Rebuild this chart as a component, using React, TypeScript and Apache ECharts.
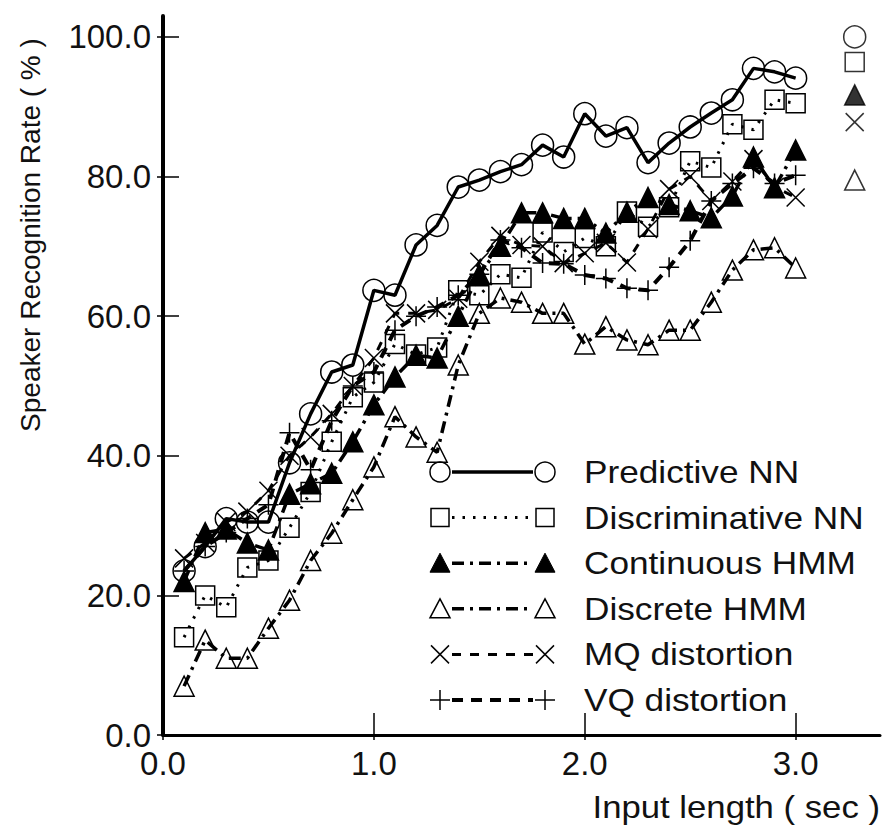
import React, { useEffect, useRef } from "react";
import * as echarts from "echarts";

const inputLength = [0.1, 0.2, 0.3, 0.4, 0.5, 0.6, 0.7, 0.8, 0.9, 1.0, 1.1, 1.2, 1.3, 1.4, 1.5, 1.6, 1.7, 1.8, 1.9, 2.0, 2.1, 2.2, 2.3, 2.4, 2.5, 2.6, 2.7, 2.8, 2.9, 3.0];

const predictiveNN = [23.5, 27, 31, 30.5, 30.5, 39, 46, 52, 53, 63.7, 63, 70.2, 73, 78.5, 79.5, 80.7, 81.7, 84.5, 82.8, 89, 85.8, 87, 82, 84.8, 87.1, 89.1, 91, 95.5, 95, 94.1];
const discriminativeNN = [14, 20, 18.3, 24, 25, 29.7, 34.8, 42, 48.4, 50.5, 56, 54.5, 55.5, 63.7, 63, 66, 65.5, 72, 69.2, 71.2, 70, 75, 72.8, 75.6, 82.2, 81.3, 87.5, 86.7, 91, 90.5];
const continuousHMM = [22, 29, 29.5, 27.5, 26.5, 34.5, 36, 37.5, 42, 47.3, 51.3, 54.4, 54, 60, 66, 70, 74.8, 74.8, 74, 74, 71.9, 74.9, 77, 76, 75.1, 74.1, 77.2, 82.8, 78.4, 83.8];
const discreteHMM = [7, 13.6, 11, 11, 15.3, 19.3, 25, 28.9, 33.7, 38.4, 45.6, 42.7, 40.5, 53, 60.4, 62.6, 62, 60.4, 60.4, 56, 58.5, 56.6, 55.9, 58, 58, 62, 66.6, 69.5, 69.8, 66.9];
const mqDistortion = [25.3, 27.5, 30.5, 32, 35, 40, 42.7, 46, 50, 54, 60.4, 60.4, 60.9, 62.5, 67.8, 71.5, 70.2, 70, 67.6, 69, 70.5, 67.7, 72.5, 78.2, 80, 76.5, 79.3, 82.5, 78.5, 77];
const vqDistortion = [23.5, 27, 29, 31, 33, 43.3, 38, 45, 50, 52, 58, 60, 61.3, 63, 66, 70.9, 69.8, 67.6, 67.5, 65.9, 65.4, 64, 63.7, 67, 70.8, 76.5, 79, 81.2, 79, 80.2];

const seriesNames = ["Predictive NN", "Discriminative NN", "Continuous HMM", "Discrete HMM", "MQ distortion", "VQ distortion"];
const seriesValues = [predictiveNN, discriminativeNN, continuousHMM, discreteHMM, mqDistortion, vqDistortion];

// loose marker column at the right edge of the figure
const sideMarkX = [3.28, 3.28, 3.28, 3.28, 3.28];
const sideMarkY = [100, 96.4, 91.7, 87.8, 79.5];
const sideMarkKind = [0, 1, 2, 4, 3];

const xTickValues = [0, 1, 2, 3];
const yTickValues = [0, 20, 40, 60, 80, 100];

const FONT = "Liberation Sans, Arial, Helvetica, sans-serif";
const CROSS = "path://M0,0L10,10M10,0L0,10";
const PLUS = "path://M5,0L5,10M0,5L10,5";

const styles: any[] = [
  { kind: "circle", symbol: "circle", size: 22, fill: "rgba(255,255,255,0)", dash: "solid", width: 3.5 },
  { kind: "square", symbol: "rect", size: 19, fill: "rgba(255,255,255,0)", dash: [2.5, 8], width: 3 },
  { kind: "ftri", symbol: "triangle", size: 20, fill: "#000", dash: [12, 6, 3, 6], width: 3.5 },
  { kind: "otri", symbol: "triangle", size: 20, fill: "rgba(255,255,255,0)", dash: [12, 6, 3, 6], width: 3.5 },
  { kind: "cross", symbol: CROSS, size: 18, fill: "rgba(255,255,255,0)", dash: [9, 9], width: 3 },
  { kind: "plus", symbol: PLUS, size: 20, fill: "rgba(255,255,255,0)", dash: [11, 8], width: 4 },
];

function markerGraphic(kind: string, cx: number, cy: number): any[] {
  const st = { fill: "none", stroke: "#000", lineWidth: 1.5 };
  switch (kind) {
    case "circle":
      return [{ type: "circle", shape: { cx, cy, r: 10 }, style: st }];
    case "square":
      return [{ type: "rect", shape: { x: cx - 9, y: cy - 9, width: 18, height: 18 }, style: st }];
    case "ftri":
      return [{ type: "polygon", shape: { points: [[cx, cy - 10], [cx + 10, cy + 9], [cx - 10, cy + 9]] }, style: { fill: "#000", stroke: "#000", lineWidth: 1 } }];
    case "otri":
      return [{ type: "polygon", shape: { points: [[cx, cy - 10], [cx + 10, cy + 9], [cx - 10, cy + 9]] }, style: st }];
    case "cross":
      return [
        { type: "line", shape: { x1: cx - 9, y1: cy - 9, x2: cx + 9, y2: cy + 9 }, style: st },
        { type: "line", shape: { x1: cx - 9, y1: cy + 9, x2: cx + 9, y2: cy - 9 }, style: st },
      ];
    default:
      return [
        { type: "line", shape: { x1: cx, y1: cy - 10, x2: cx, y2: cy + 10 }, style: st },
        { type: "line", shape: { x1: cx - 10, y1: cy, x2: cx + 10, y2: cy }, style: st },
      ];
  }
}

export default function App() {
  const ref = useRef<HTMLDivElement>(null);
  useEffect(() => {
    document.body.style.margin = "0";
    const chart = echarts.init(ref.current!, null, { renderer: "svg" });

    const lineSeries = seriesNames.map((name, i) => {
      const s = styles[i];
      return {
        name,
        type: "line",
        data: inputLength.map((x, k) => [x, seriesValues[i][k]]),
        symbol: s.symbol,
        symbolSize: s.size,
        showAllSymbol: true,
        itemStyle: { color: s.fill, borderColor: "#000", borderWidth: 1.5 },
        lineStyle: { color: "#000", width: s.width, type: s.dash },
        z: 2 + i,
      };
    });

    const sideSeries = {
      name: "side",
      type: "scatter",
      data: sideMarkX.map((x, k) => {
        const s = styles[sideMarkKind[k]];
        return {
          value: [x, sideMarkY[k]],
          symbol: s.symbol,
          symbolSize: s.size,
          itemStyle: { color: s.fill, borderColor: "#000", borderWidth: 1.5 },
        };
      }),
    };

    const legendGraphics: any[] = [];
    seriesNames.forEach((name, i) => {
      const s = styles[i];
      const cy = 472 + i * 45.6;
      legendGraphics.push({
        type: "line",
        shape: { x1: 452, y1: cy, x2: 533, y2: cy },
        style: { stroke: "#000", lineWidth: s.width, lineDash: s.dash === "solid" ? null : s.dash },
      });
      legendGraphics.push(...markerGraphic(s.kind, 440, cy));
      legendGraphics.push(...markerGraphic(s.kind, 545, cy));
      legendGraphics.push({
        type: "text",
        x: 584,
        y: cy,
        scaleX: 1.1,
        style: { text: name, font: `32px ${FONT}`, fill: "#111", verticalAlign: "middle", align: "left" },
      });
    });

    const labelStyle = { fontSize: 33, fontFamily: FONT, color: "#111" };

    chart.setOption({
      animation: false,
      backgroundColor: "#fff",
      grid: { left: 163, right: 4, top: 16, bottom: 98, outerBoundsMode: "none" },
      xAxis: [
        {
          type: "value",
          min: 0,
          max: 3.4,
          axisLine: { lineStyle: { color: "#000", width: 3 } },
          axisTick: { inside: true, length: 22, customValues: xTickValues, lineStyle: { color: "#000", width: 1.5 } },
          axisLabel: { ...labelStyle, margin: 12, customValues: xTickValues, formatter: (v: number) => v.toFixed(1) },
          splitLine: { show: false },
        },
        {
          type: "value",
          position: "bottom",
          min: 0,
          max: 3.4,
          axisLine: { show: false },
          axisTick: { inside: false, length: 5, customValues: xTickValues, lineStyle: { color: "#000", width: 1.5 } },
          axisLabel: { show: false },
          splitLine: { show: false },
        },
      ],
      yAxis: [
        {
          type: "value",
          min: 0,
          max: 103,
          axisLine: { show: true, lineStyle: { color: "#000", width: 4 } },
          axisTick: { show: true, inside: true, length: 16, customValues: yTickValues, lineStyle: { color: "#000", width: 1.5 } },
          axisLabel: { ...labelStyle, margin: 12, customValues: yTickValues, formatter: (v: number) => v.toFixed(1) },
          splitLine: { show: false },
        },
        {
          type: "value",
          position: "left",
          min: 0,
          max: 103,
          axisLine: { show: false },
          axisTick: { show: true, inside: false, length: 6, customValues: yTickValues, lineStyle: { color: "#000", width: 1.5 } },
          axisLabel: { show: false },
          splitLine: { show: false },
        },
      ],
      graphic: [
        {
          type: "text",
          x: 30,
          y: 235,
          rotation: Math.PI / 2,
          style: { text: "Speaker Recognition Rate ( % )", font: `28px ${FONT}`, fill: "#111", align: "center", verticalAlign: "middle" },
        },
        {
          type: "text",
          x: 880,
          y: 807,
          scaleX: 1.12,
          style: { text: "Input length ( sec )", font: `31px ${FONT}`, fill: "#111", align: "right", verticalAlign: "middle" },
        },
        ...legendGraphics,
      ],
      series: [...lineSeries, sideSeries],
    });
    return () => chart.dispose();
  }, []);
  return <div ref={ref} style={{ width: 884, height: 833 }} />;
}
